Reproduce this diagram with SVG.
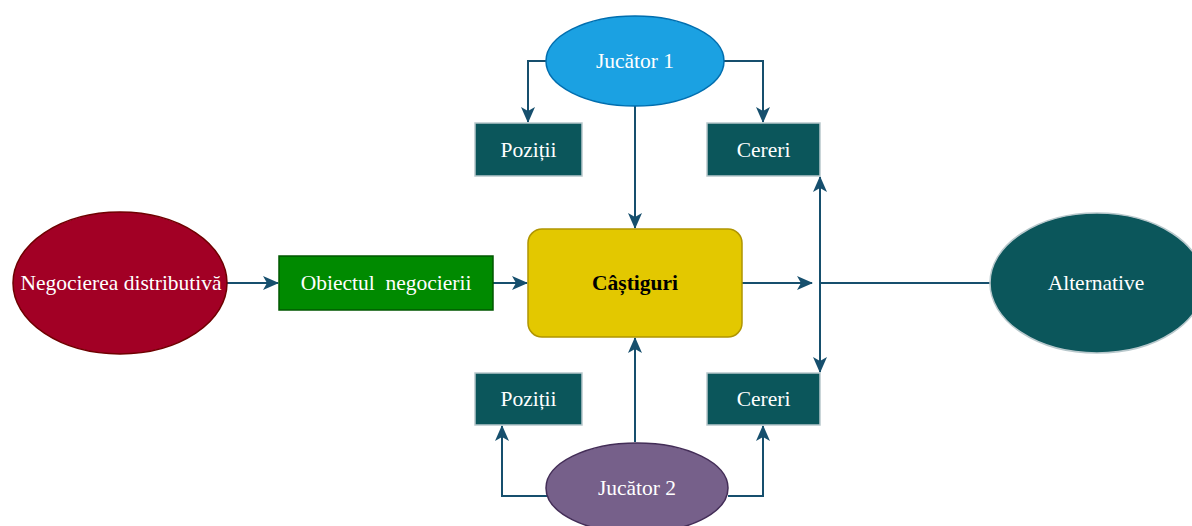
<svg xmlns="http://www.w3.org/2000/svg" width="1192" height="526" viewBox="0 0 1192 526">
<defs>
<marker id="arr" markerUnits="userSpaceOnUse" markerWidth="16" markerHeight="14" viewBox="0 0 16 14" refX="15" refY="7" orient="auto">
<path d="M0,0 L16,7 L0,14 L4,7 Z" fill="#164f6d"/>
</marker>
<style>
.c{fill:none;stroke:#164f6d;stroke-width:2}
.t{font-family:"Liberation Serif","Times New Roman",serif;font-size:21.5px;fill:#ffffff;text-anchor:middle;dominant-baseline:central}
.teal{fill:#0b565b;stroke:#b8c8cc;stroke-width:1.5}
</style>
</defs>
<rect width="1192" height="526" fill="#ffffff"/>
<g id="connectors">
<path class="c" d="M546,61 H528 V122" marker-end="url(#arr)"/>
<path class="c" d="M724,61 H763 V122" marker-end="url(#arr)"/>
<path class="c" d="M635,106 V228" marker-end="url(#arr)"/>
<path class="c" d="M227,283 H278" marker-end="url(#arr)"/>
<path class="c" d="M493,283 H527" marker-end="url(#arr)"/>
<path class="c" d="M742,283 H812" marker-end="url(#arr)"/>
<path class="c" d="M820,283 V177" marker-end="url(#arr)"/>
<path class="c" d="M820,283 V372" marker-end="url(#arr)"/>
<path class="c" d="M820,283 H990"/>
<path class="c" d="M635,442 V338" marker-end="url(#arr)"/>
<path class="c" d="M547,496 H502 V426" marker-end="url(#arr)"/>
<path class="c" d="M728,496 H763 V426" marker-end="url(#arr)"/>
</g>
<g id="jucator1">
<ellipse cx="635" cy="61" rx="89" ry="45" fill="#1ba1e2" stroke="#006eaf" stroke-width="1.5"/>
<text class="t" x="635" y="61">Jucător 1</text>
</g>
<g id="pozitii1">
<rect class="teal" x="475" y="123" width="107" height="53"/>
<text class="t" x="528.5" y="150">Poziții</text>
</g>
<g id="cereri1">
<rect class="teal" x="707" y="123" width="113" height="53"/>
<text class="t" x="763.5" y="150">Cereri</text>
</g>
<g id="negocierea">
<ellipse cx="120" cy="283" rx="107" ry="71" fill="#a20025" stroke="#6f0000" stroke-width="1.5"/>
<text class="t" x="121" y="283">Negocierea distributivă</text>
</g>
<g id="obiectul">
<rect x="279" y="256" width="214" height="54" fill="#008a00" stroke="#005700" stroke-width="1.5"/>
<text class="t" x="386" y="283" xml:space="preserve">Obiectul  negocierii</text>
</g>
<g id="castiguri">
<rect x="528" y="229" width="214" height="108" rx="14" ry="14" fill="#e3c800" stroke="#b09500" stroke-width="1.5"/>
<text class="t" x="635" y="283" style="fill:#000000;font-weight:bold">Câștiguri</text>
</g>
<g id="alternative">
<ellipse cx="1097" cy="283" rx="107" ry="70" fill="#0b565b" stroke="#b8c8cc" stroke-width="1.5"/>
<text class="t" x="1096" y="283">Alternative</text>
</g>
<g id="pozitii2">
<rect class="teal" x="475" y="373" width="107" height="52"/>
<text class="t" x="528.5" y="399">Poziții</text>
</g>
<g id="cereri2">
<rect class="teal" x="707" y="373" width="113" height="52"/>
<text class="t" x="763.5" y="399">Cereri</text>
</g>
<g id="jucator2">
<ellipse cx="637" cy="488" rx="91" ry="45" fill="#76608a" stroke="#432d57" stroke-width="1.5"/>
<text class="t" x="637" y="488">Jucător 2</text>
</g>
</svg>
